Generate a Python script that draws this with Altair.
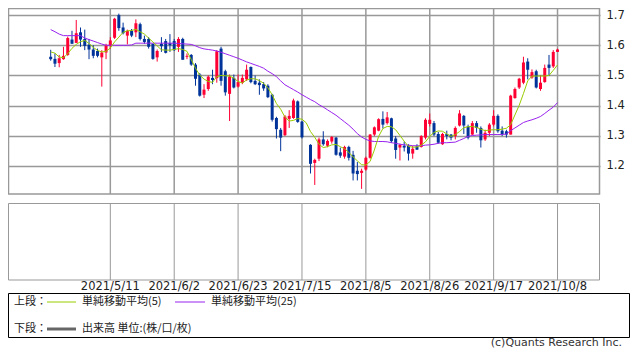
import altair as alt
import pandas as pd

# ---------------- data ----------------
dates = pd.bdate_range("2021-04-21", "2021-10-08", freq="C",
                       holidays=["2021-05-31", "2021-07-05", "2021-09-06"])
date_labels = [f"{d.year}/{d.month}/{d.day}" for d in dates]

opens = [1.562,1.555,1.541,1.554,1.568,1.619,1.608,1.643,1.621,1.602,
 1.586,1.581,1.560,1.576,1.598,1.625,1.700,1.659,1.632,1.648,
 1.643,1.670,1.621,1.621,1.605,1.560,1.605,1.614,1.607,1.614,
 1.595,1.621,1.562,1.568,1.536,1.503,1.436,1.455,1.492,1.491,
 1.589,1.514,1.439,1.492,1.463,1.476,1.487,1.528,1.482,1.476,
 1.471,1.466,1.436,1.359,1.320,1.302,1.356,1.359,1.414,1.347,
 None,1.270,1.210,1.224,1.288,1.267,1.281,1.294,1.245,1.231,
 1.263,1.237,1.184,1.177,1.188,1.227,1.304,1.317,1.356,1.342,
 1.358,1.291,1.261,1.267,1.267,1.241,1.265,1.263,1.294,1.339,
 1.342,1.306,1.272,1.306,1.304,1.299,1.334,1.366,1.331,1.304,
 1.342,1.326,1.288,1.310,1.337,1.366,1.317,1.315,1.304,1.425,
 1.460,1.476,1.546,1.493,1.514,1.455,1.478,1.536,1.530,1.578]

highs = [1.585,1.573,1.568,1.595,1.629,1.648,1.684,1.659,1.652,1.621,
 1.600,1.589,1.584,1.605,1.627,1.691,1.705,1.675,1.652,1.654,
 1.686,1.675,1.632,1.627,1.605,1.586,1.627,1.621,1.637,1.621,
 1.627,1.625,1.573,1.571,1.541,1.508,1.471,1.500,1.519,1.584,
 1.595,1.519,1.503,1.503,1.503,1.503,1.536,1.530,1.500,1.487,
 1.478,1.471,1.439,1.363,1.326,1.369,1.385,1.423,1.417,1.349,
 None,1.272,1.224,1.294,1.315,1.288,1.299,1.296,1.261,1.267,
 1.267,1.250,1.213,1.191,1.231,1.306,1.331,1.358,1.381,1.379,
 1.360,1.299,1.274,1.281,1.272,1.267,1.272,1.302,1.358,1.374,
 1.349,1.313,1.310,1.317,1.306,1.331,1.385,1.369,1.337,1.349,
 1.349,1.331,1.320,1.342,1.385,1.371,1.331,1.320,1.436,1.460,
 1.492,1.562,1.557,1.520,1.519,1.500,1.536,1.568,1.584,1.589]

lows = [1.549,1.528,1.527,1.552,1.565,1.605,1.608,1.595,1.584,1.554,
 1.557,1.560,1.463,1.554,1.589,1.621,1.648,1.636,1.603,1.627,
 1.627,1.616,1.605,1.589,1.552,1.546,1.578,1.573,1.578,1.581,
 1.578,1.552,1.554,1.532,1.466,1.430,1.425,1.449,1.471,1.476,
 1.466,1.433,1.349,1.457,1.460,1.471,1.482,1.474,1.468,1.436,
 1.449,1.425,1.347,1.291,1.249,1.299,1.326,1.356,1.343,1.291,
 None,1.175,1.137,1.216,1.267,1.262,1.274,1.234,1.227,1.224,
 1.218,1.152,1.152,1.124,1.184,1.224,1.299,1.315,1.324,1.337,
 1.277,1.224,1.218,1.248,1.218,1.224,1.253,1.261,1.288,1.331,
 1.299,1.274,1.270,1.288,1.285,1.288,1.331,1.306,1.288,1.302,
 1.310,1.261,1.283,1.299,1.331,1.310,1.299,1.294,1.304,1.423,
 1.455,1.471,1.487,1.489,1.457,1.449,1.476,1.498,1.525,1.578]

closes = [1.554,1.539,1.557,1.565,1.624,1.605,1.640,1.619,1.598,1.586,
 1.565,1.565,1.576,1.600,1.616,1.688,1.657,1.640,1.648,1.632,
 1.673,1.621,1.611,1.595,1.555,1.581,1.597,1.575,1.600,1.584,
 1.621,1.552,1.565,1.536,1.489,1.433,1.453,1.496,1.485,1.580,
 1.482,1.444,1.496,1.460,1.478,1.492,1.519,1.478,1.471,1.468,
 1.457,1.428,1.353,1.322,1.294,1.364,1.366,1.417,1.346,1.295,
 None,1.207,1.220,1.288,1.272,1.283,1.296,1.237,1.234,1.263,
 1.227,1.175,1.173,1.184,1.227,1.304,1.328,1.355,1.337,1.361,
 1.282,1.253,1.270,1.261,1.241,1.257,1.254,1.299,1.353,1.353,
 1.304,1.277,1.306,1.299,1.294,1.326,1.374,1.334,1.294,1.342,
 1.326,1.285,1.310,1.337,1.366,1.315,1.306,1.304,1.433,1.455,
 1.489,1.543,1.519,1.511,1.460,1.476,1.525,1.525,1.578,1.586]

ma5 = [1.578,1.574,1.561,1.559,1.572,1.590,1.603,1.612,1.616,1.606,
 1.593,1.583,1.578,1.580,1.591,1.611,1.627,1.643,1.648,1.649,
 1.653,1.645,1.637,1.624,1.611,1.598,1.585,1.584,1.584,1.586,
 1.589,1.586,1.580,1.553,1.524,1.501,1.488,1.480,1.477,1.496,
 1.500,1.499,1.498,1.491,1.480,1.475,1.485,1.489,1.489,1.483,
 1.474,1.459,1.436,1.407,1.388,1.362,1.349,1.351,1.357,1.355,
 1.343,1.314,1.295,1.272,1.261,1.264,1.270,1.271,1.264,1.257,
 1.245,1.230,1.217,1.204,1.203,1.215,1.253,1.298,1.324,1.331,
 1.330,1.320,1.301,1.282,1.265,1.262,1.263,1.269,1.280,1.298,
 1.311,1.316,1.315,1.306,1.298,1.304,1.314,1.327,1.330,1.331,
 1.328,1.322,1.317,1.319,1.320,1.320,1.322,1.325,1.337,1.369,
 1.401,1.440,1.482,1.498,1.498,1.498,1.498,1.500,1.517,1.535]

ma25 = [1.652,1.645,1.637,1.632,1.632,1.632,1.632,1.632,1.624,1.619,
 1.614,1.609,1.604,1.600,1.600,1.600,1.600,1.600,1.600,1.601,
 1.607,1.607,1.607,1.607,1.607,1.607,1.607,1.607,1.607,1.607,
 1.606,1.605,1.604,1.603,1.598,1.592,1.588,1.586,1.584,1.581,
 1.577,1.572,1.567,1.562,1.557,1.551,1.545,1.540,1.535,1.530,
 1.524,1.514,1.506,1.496,1.482,1.469,1.461,1.453,1.445,1.436,
 1.428,1.420,1.413,1.403,1.395,1.386,1.377,1.368,1.357,1.346,
 1.335,1.322,1.307,1.296,1.288,1.283,1.281,1.281,1.281,1.280,
 1.277,1.275,1.272,1.270,1.269,1.267,1.267,1.267,1.269,1.270,
 1.272,1.275,1.277,1.277,1.278,1.279,1.285,1.291,1.298,1.301,
 1.302,1.303,1.304,1.304,1.304,1.304,1.304,1.306,1.317,1.326,
 1.335,1.344,1.349,1.353,1.358,1.364,1.374,1.385,1.395,1.410]

tick_idx = [14, 29, 44, 59, 74, 89, 104, 119]
tick_labels = [date_labels[k] for k in tick_idx]
price_ticks = [1.2, 1.3, 1.4, 1.5, 1.6, 1.7]

legend_top = "上段："
legend_bottom = "下段："
ma_names = ["単純移動平均(5)", "単純移動平均(25)"]
vol_name = "出来高 単位:(株/口/枚)"
credit = "(c)Quants Research Inc."

# ---------------- styles ----------------
W, H = 592, 340
X_DOM = [-8.85, 127.8]
Y_DOM = [0.5965, 1.7236]
RED, BLUE = "#ff0033", "#003399"
C_MA5, C_MA25 = "#99cc00", "#9922ee"
GRID = "#999999"
JP = "Noto Sans CJK JP"
NUM = "DejaVu Sans"

rows = []
for k in range(len(opens)):
    rows.append({
        "i": k, "date": date_labels[k],
        "open": opens[k], "high": highs[k], "low": lows[k], "close": closes[k],
        "ma5": ma5[k], "ma25": ma25[k],
        "dir": (None if opens[k] is None else ("up" if closes[k] >= opens[k] else "down")),
    })
df = pd.DataFrame(rows)
candles = df[df["open"].notna()]
ticks_df = pd.DataFrame({"i": tick_idx, "label": tick_labels})
prices_df = pd.DataFrame({"p": price_ticks})

xs = alt.Scale(domain=X_DOM, nice=False, zero=False)
ys = alt.Scale(domain=Y_DOM, nice=False, zero=False)
yaxis = alt.Axis(orient="right", values=price_ticks, format=".1f", title=None,
                 domain=False, ticks=False, labelPadding=6, labelFont=NUM,
                 labelFontSize=11.5, labelColor="#222", grid=True,
                 gridColor=GRID, gridWidth=1.5)
X = alt.X("i:Q", scale=xs, axis=None)
colr = alt.Color("dir:N", scale=alt.Scale(domain=["up", "down"], range=[RED, BLUE]), legend=None)

one = alt.Data(values=[{"t": ""}])

def text_at(txt, x, y, align="left", font=JP, size=11, color="#222"):
    return alt.Chart(alt.Data(values=[{"t": txt}])).mark_text(
        align=align, baseline="middle", font=font, fontSize=size, color=color
    ).encode(x=alt.value(x), y=alt.value(y), text="t:N")

def hline(x1, x2, y, color, width):
    return alt.Chart(one).mark_rule(color=color, strokeWidth=width).encode(
        x=alt.value(x1), x2=alt.value(x2), y=alt.value(y))

def box(x1, x2, y1, y2, color, width):
    return alt.Chart(one).mark_rect(fillOpacity=0, stroke=color, strokeWidth=width).encode(
        x=alt.value(x1), x2=alt.value(x2), y=alt.value(y1), y2=alt.value(y2))

# horizontal grid via y axis
hgrid = alt.Chart(prices_df).mark_point(opacity=0).encode(
    x=alt.value(0), y=alt.Y("p:Q", scale=ys, axis=yaxis))

vgrid_up = alt.Chart(ticks_df).mark_rule(color=GRID, strokeWidth=1.5).encode(
    x=X, y=alt.value(0), y2=alt.value(186))
vgrid_low = alt.Chart(ticks_df).mark_rule(color=GRID, strokeWidth=1).encode(
    x=X, y=alt.value(195), y2=alt.value(272))
date_text = alt.Chart(ticks_df).mark_text(font=NUM, fontSize=11.5, color="#222",
                                           baseline="middle").encode(
    x=X, y=alt.value(279), text="label:N")

wicks = alt.Chart(candles).mark_rule(strokeWidth=1).encode(
    x=X, y=alt.Y("low:Q", scale=ys, axis=yaxis), y2="high:Q", color=colr)
bodies = alt.Chart(candles).mark_bar(size=3).encode(
    x=X, y=alt.Y("open:Q", scale=ys, axis=yaxis), y2="close:Q", color=colr)
line5 = alt.Chart(df).mark_line(color=C_MA5, strokeWidth=1).encode(
    x=X, y=alt.Y("ma5:Q", scale=ys, axis=yaxis))
line25 = alt.Chart(df).mark_line(color=C_MA25, strokeWidth=1).encode(
    x=X, y=alt.Y("ma25:Q", scale=ys, axis=yaxis))

chart = alt.layer(
    hgrid,
    vgrid_up,
    box(0.5, 591.5, 0.5, 186, GRID, 1.5),
    vgrid_low,
    box(0.5, 591.5, 195.5, 272, GRID, 1),
    date_text,
    wicks, bodies, line25, line5,
    box(0.5, 621.5, 285.5, 329.5, "#000", 1),
    text_at(legend_top, 6, 294),
    hline(39, 68, 294, C_MA5, 1),
    text_at(ma_names[0], 74, 294),
    hline(167, 197, 294, C_MA25, 1),
    text_at(ma_names[1], 203, 294),
    text_at(legend_bottom, 6, 321),
    hline(39, 68, 321, "#666", 3),
    text_at(vol_name, 74, 321),
    text_at(credit, 614, 335, align="right", font=NUM, size=11, color="#333"),
).properties(
    width=W, height=H,
    padding={"left": 0, "top": 0, "right": 30, "bottom": 0},
    autosize=alt.AutoSizeParams(type="none"),
    background="white",
).configure_view(stroke=None)

chart.save("out.html", embed_options={"renderer": "svg", "actions": False})
